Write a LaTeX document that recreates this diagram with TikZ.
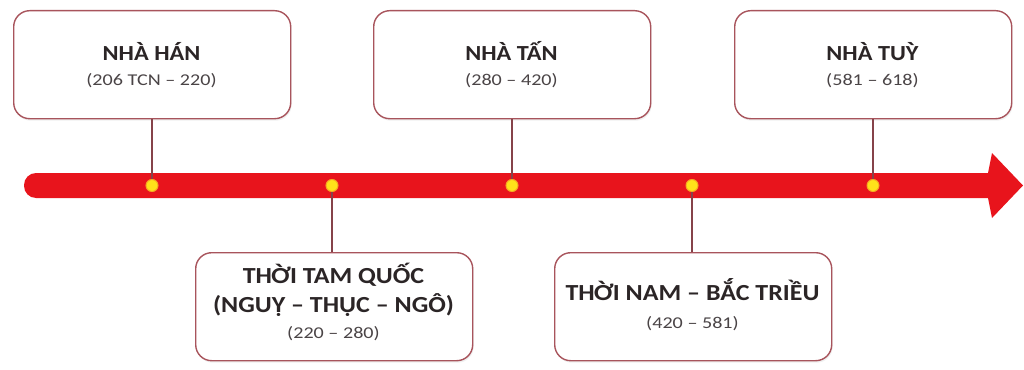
\documentclass[tikz,border=0pt]{standalone}
\usepackage{fontspec}
\setmainfont{Carlito}
\newfontfamily\ttlfont[FakeStretch=1.13]{Carlito}
\newfontfamily\dtefont[FakeStretch=1.22]{Carlito}
\usetikzlibrary{shadows}
\definecolor{boxline}{HTML}{A8545C}
\definecolor{barred}{HTML}{E8141C}
\definecolor{dotyel}{HTML}{FFE21A}
\definecolor{dotorg}{HTML}{F5A623}
\definecolor{titlec}{HTML}{2B2526}
\definecolor{datec}{HTML}{4A4446}
\begin{document}
\begin{tikzpicture}[x=1pt,y=-1pt,
  era/.style={draw=boxline,line width=1.4pt,rounded corners=16pt,fill=white,
    drop shadow={opacity=0.12,shadow xshift=1pt,shadow yshift=-2pt},
    minimum width=277pt,minimum height=108pt,inner sep=0pt,anchor=north west},
  link/.style={draw=boxline!80!black,line width=1.1pt},
  dot/.style={circle,fill=dotyel,draw=dotorg,line width=1pt,minimum size=12pt,inner sep=0pt},
  ttl/.style={font=\ttlfont\fontsize{21.5}{24}\selectfont\bfseries,text=titlec,anchor=base,inner sep=0pt},
  ttlb/.style={ttl,font=\ttlfont\fontsize{23}{26}\selectfont\bfseries},
  dte/.style={font=\dtefont\fontsize{16.5}{18}\selectfont,text=datec,anchor=base,inner sep=0pt}]
\useasboundingbox (0,0) rectangle (1024,369);
% bar with arrow
\fill[barred,rounded corners=12pt] (24,173) rectangle (1000,198);
\fill[barred] (988,173) -- (992,153) -- (1023,185.5) -- (992,218) -- (988,198) -- cycle;
% boxes
\node[era] (han) at (13,10) {};
\node[era] (tan) at (373,10) {};
\node[era] (tuy) at (734,10) {};
\node[era] (tamquoc) at (195,252) {};
\node[era] (nambac) at (554,252) {};
% texts
\node[ttl] (hanT) at (151.5,60) {NHÀ HÁN};
\node[dte] (hanD) at (151.5,85) {(206 TCN – 220)};
\node[ttl] (tanT) at (511.5,60) {NHÀ TẤN};
\node[dte] (tanD) at (511.5,85) {(280 – 420)};
\node[ttl] (tuyT) at (872.5,60) {NHÀ TUỲ};
\node[dte] (tuyD) at (872.5,85) {(581 – 618)};
\node[ttlb] (tqT1) at (333.5,283) {THỜI TAM QUỐC};
\node[ttlb] (tqT2) at (333.5,312) {(NGUỴ – THỤC – NGÔ)};
\node[dte] (tqD) at (333.5,338) {(220 – 280)};
\node[ttlb] (nbT) at (692.5,300) {THỜI NAM – BẮC TRIỀU};
\node[dte] (nbD) at (692.5,328) {(420 – 581)};
% dots
\node[dot] (d1) at (152,185.5) {};
\node[dot] (d2) at (332,185.5) {};
\node[dot] (d3) at (512,185.5) {};
\node[dot] (d4) at (692,185.5) {};
\node[dot] (d5) at (873,185.5) {};
% links
\draw[link] (han.south -| d1) -- (d1.north);
\draw[link] (tan.south -| d3) -- (d3.north);
\draw[link] (tuy.south -| d5) -- (d5.north);
\draw[link] (d2.south) -- (tamquoc.north -| d2);
\draw[link] (d4.south) -- (nambac.north -| d4);
\end{tikzpicture}
\end{document}
